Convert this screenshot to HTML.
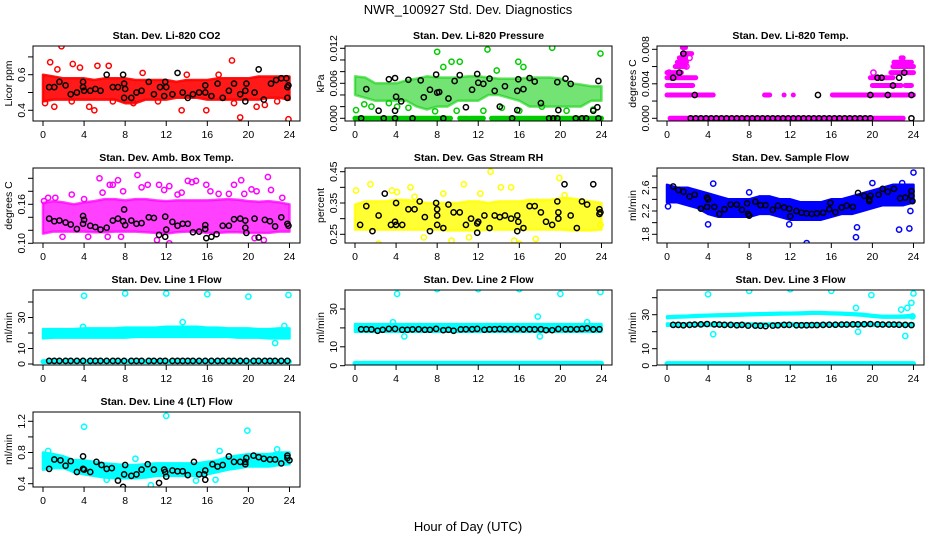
<!DOCTYPE html>
<html><head><meta charset="utf-8"><style>
html,body{margin:0;padding:0;background:#fff}
svg{display:block;font-family:"Liberation Sans",Arial,sans-serif}
</style></head><body>
<svg id="chart" width="936" height="540" viewBox="0 0 936 540" xmlns="http://www.w3.org/2000/svg">
<text x="468" y="14" text-anchor="middle" font-size="13">NWR_100927  Std. Dev. Diagnostics</text>
<text x="468" y="531" text-anchor="middle" font-size="13">Hour of Day (UTC)</text>
</svg>
<script>
// ---------- data ----------
const bandHours = [0,1,2,3,4,5,6,7,8,9,10,11,12,13,14,15,16,17,18,19,20,21,22,23,24];
const xTicks = [0,4,8,12,16,20,24];
const blkLineHours = [0.6,1.1,1.6,2.2,2.7,3.3,3.9,4.6,5.1,5.6,6.2,6.8,7.3,7.9,8.6,9.1,9.6,10.3,10.8,11.4,11.9,12.6,13.1,13.6,14.1,14.6,15.2,15.8,16.4,17,17.5,18.1,18.6,19.2,19.8,20.5,21,21.6,22.1,22.6,23.2,23.8];

// CO2
const co2Lo = [0.45,0.46,0.46,0.46,0.46,0.46,0.46,0.46,0.44,0.44,0.46,0.46,0.46,0.47,0.47,0.47,0.46,0.46,0.46,0.46,0.46,0.46,0.47,0.47,0.46];
const co2Hi = [0.60,0.59,0.58,0.58,0.58,0.57,0.58,0.58,0.58,0.57,0.57,0.57,0.57,0.56,0.57,0.57,0.57,0.58,0.58,0.58,0.58,0.59,0.59,0.59,0.59];
const co2PtsH = [1.8,0.2,0.7,2.9,3.6,5.3,6.4,4.5,5.0,1.1,9.7,13.5,15.9,18.4,19.2,20.8,23.9,14.0,1.4,17.1,21.6,22.8,2.8,6.8,11.2,8.8,18.6];
const co2PtsV = [0.76,0.44,0.67,0.66,0.64,0.65,0.65,0.42,0.40,0.42,0.61,0.40,0.40,0.68,0.36,0.42,0.35,0.60,0.63,0.60,0.43,0.45,0.45,0.45,0.45,0.44,0.44];
const co2BlkH = [0.6,1.1,1.6,2.2,2.7,3.3,3.9,3.9,4.0,4.6,5.1,5.6,6.2,6.8,7.3,7.8,7.9,8.0,7.9,8.6,9.1,9.6,10.3,10.8,11.4,11.8,11.9,12.0,12.6,13.1,13.6,14.1,14.6,15.2,15.8,15.8,16.4,17.0,17.5,18.1,18.6,19.2,19.7,19.8,19.7,20.6,21.0,21.5,22.2,22.7,23.2,23.7,23.8,23.9,23.8];
const co2BlkV = [0.53,0.53,0.56,0.54,0.49,0.50,0.56,0.53,0.51,0.51,0.52,0.51,0.60,0.53,0.53,0.60,0.55,0.52,0.47,0.47,0.50,0.51,0.56,0.49,0.53,0.48,0.56,0.53,0.49,0.61,0.50,0.47,0.49,0.50,0.54,0.50,0.48,0.55,0.47,0.51,0.55,0.49,0.51,0.55,0.45,0.50,0.63,0.46,0.55,0.57,0.58,0.58,0.53,0.54,0.47];

// Pressure
const presLo = [0.0040,0.0035,0.0030,0.0030,0.0030,0.0030,0.0020,0.0015,0.0020,0.0020,0.0030,0.0030,0.0030,0.0040,0.0040,0.0035,0.0030,0.0020,0.0020,0.0020,0.0020,0.0020,0.0020,0.0030,0.0030];
const presHi = [0.0072,0.0070,0.0060,0.0060,0.0060,0.0065,0.0068,0.0072,0.0070,0.0070,0.0070,0.0072,0.0072,0.0070,0.0068,0.0068,0.0068,0.0070,0.0070,0.0070,0.0068,0.0060,0.0058,0.0055,0.0055];
const presRowV = [0,0,0,0,0];
const presRowStart = [0.0,8.5,10.2,11.2,13.3];
const presRowEnd = [8.3,9.3,11.0,12.5,24.0];
const presPtsH = [8.0,12.9,19.2,23.9,9.4,10.2,15.9,16.4,8.6,13.8,0.1,1.6,3.3,5.2,4.1,9.9,12.5,14.3,16.0,18.2,20.6,23.2,0.9,7.8];
const presPtsV = [0.0114,0.0118,0.0121,0.0111,0.0097,0.0097,0.0097,0.0088,0.0088,0.0082,0.0014,0.0020,0.0026,0.0018,0.0020,0.0013,0.0013,0.0018,0.0013,0.0020,0.0013,0.0015,0.0024,0.0012];
const presBlkH = [1.1,2.3,3.3,3.9,3.9,4.0,4.5,5.2,6.4,6.7,7.3,7.9,8.0,8.2,9.1,9.7,10.2,10.8,11.4,11.9,12.0,12.5,13.1,13.6,14.1,14.6,15.8,15.9,15.8,16.4,17.0,17.5,18.1,19.7,19.8,20.5,21.0,23.2,23.6,23.7,0.6,2.8,3.9,5.6,8.6,15.3,18.9,19.3,19.7,21.5,22.1,22.5,23.7];
const presBlkV = [0.0050,0.0013,0.0067,0.0069,0.0013,0.0037,0.0029,0.0066,0.0065,0.0036,0.0049,0.0075,0.0044,0.0045,0.0034,0.0064,0.0074,0.0019,0.0049,0.0076,0.0061,0.0059,0.0068,0.0047,0.0020,0.0055,0.0047,0.0067,0.0014,0.0050,0.0069,0.0063,0.0026,0.0062,0.0014,0.0068,0.0059,0.0013,0.0019,0.0064,0,0,0,0,0,0,0,0,0,0,0,0,0];

// Li-820 Temp
const tempRowV = [0,0.0027,0.0027,0.0027,0.0027,0.0027,0.0027,0.0038,0.0038,0.0038,0.0047,0.0047,0.0053,0.0053,0.006,0.006,0.0065,0.0065,0.007,0.007,0.0075,0.0082];
const tempRowStart = [0.3,0.0,2.5,9.5,11.4,12.3,16.1,0.0,20.0,23.2,0.0,19.8,0.0,21.8,0.8,22.0,1.0,22.1,1.2,22.8,1.5,1.5];
const tempRowEnd = [23.0,2.3,4.5,10.0,11.4,12.3,24.0,2.5,22.8,23.8,2.8,22.0,1.4,24.0,1.8,24.0,1.9,23.8,1.8,23.0,2.4,1.8];
const tempPtsH = [20.1,0.2,0.5,1.9,2.2];
const tempPtsV = [0.0053,0.0053,0.0047,0.0060,0.0070];
const tempBlkH = [2.3,2.8,3.3,3.8,4.3,4.8,5.3,5.8,6.3,6.8,7.3,7.8,8.3,8.8,9.3,9.8,10.3,10.8,11.3,11.8,12.3,12.8,13.3,13.8,14.3,14.8,15.3,15.8,16.3,16.8,17.3,17.8,18.3,18.8,19.3,19.8,23.8,1.6,1.2,0.6,2.7,14.7,19.8,21.5,23.8,20.5,20.9,22.0,22.6,23.1];
const tempBlkV = [0,0,0,0,0,0,0,0,0,0,0,0,0,0,0,0,0,0,0,0,0,0,0,0,0,0,0,0,0,0,0,0,0,0,0,0,0,0.0075,0.0053,0.0047,0.0027,0.0027,0.0027,0.0027,0.0027,0.0047,0.0047,0.0038,0.0047,0.0053];

// Amb box temp
const ambLo = [0.115,0.118,0.118,0.118,0.118,0.117,0.117,0.118,0.118,0.118,0.117,0.116,0.115,0.117,0.118,0.118,0.116,0.116,0.117,0.117,0.116,0.116,0.116,0.118,0.118];
const ambHi = [0.162,0.165,0.163,0.160,0.163,0.165,0.168,0.168,0.166,0.168,0.168,0.166,0.165,0.166,0.166,0.166,0.166,0.167,0.168,0.167,0.165,0.164,0.165,0.163,0.160];
const ambPtsH = [0.1,0.5,1.2,2.8,4.0,5.5,5.8,6.5,6.8,7.3,7.8,9.2,9.6,10.2,11.3,11.8,12.3,13.1,13.5,14.1,14.5,14.9,15.9,16.3,17.1,18.1,18.6,19.3,19.6,20.3,20.8,21.9,22.2,23.3,12.3,21.5,11.1,20.6,1.9,4.4,6.3,7.6];
const ambPtsV = [0.165,0.170,0.170,0.175,0.168,0.200,0.178,0.190,0.190,0.197,0.180,0.205,0.186,0.190,0.190,0.182,0.188,0.175,0.178,0.196,0.194,0.196,0.190,0.180,0.176,0.176,0.190,0.197,0.176,0.183,0.180,0.202,0.182,0.170,0.100,0.105,0.105,0.108,0.110,0.110,0.110,0.110];
const ambBlkH = [0.6,1.1,1.6,2.2,2.7,3.3,3.9,3.9,4.0,4.6,5.1,5.6,6.2,6.8,7.3,7.8,7.9,8.0,8.6,9.1,9.6,10.3,10.8,11.3,11.9,12.0,11.9,12.6,13.1,13.6,14.1,14.6,15.2,15.8,15.8,15.9,16.4,16.9,17.5,18.1,18.6,19.2,19.7,19.7,19.8,20.6,21.0,21.6,22.1,22.6,23.2,23.8,23.9];
const ambBlkV = [0.138,0.134,0.135,0.132,0.129,0.122,0.142,0.130,0.136,0.127,0.125,0.121,0.124,0.135,0.138,0.134,0.152,0.128,0.135,0.130,0.131,0.140,0.139,0.113,0.110,0.121,0.141,0.133,0.127,0.130,0.130,0.117,0.118,0.128,0.122,0.108,0.110,0.114,0.127,0.127,0.137,0.138,0.135,0.124,0.116,0.138,0.109,0.136,0.134,0.126,0.140,0.130,0.127];

// Gas stream RH
const rhLo = [0.265,0.265,0.265,0.265,0.265,0.265,0.265,0.265,0.265,0.262,0.262,0.262,0.262,0.265,0.265,0.265,0.265,0.265,0.265,0.265,0.265,0.262,0.262,0.262,0.265];
const rhHi = [0.345,0.355,0.355,0.355,0.360,0.360,0.355,0.350,0.350,0.350,0.350,0.355,0.355,0.350,0.355,0.355,0.355,0.360,0.360,0.360,0.365,0.365,0.360,0.355,0.350];
const rhPtsH = [0.1,1.5,2.3,3.6,4.1,5.4,5.8,8.6,10.6,12.2,13.2,14.2,15.2,16.0,15.5,19.9,20.4,9.4,6.7,11.1,17.6,23.9];
const rhPtsV = [0.39,0.41,0.22,0.39,0.385,0.40,0.37,0.38,0.41,0.38,0.45,0.40,0.40,0.22,0.23,0.43,0.375,0.23,0.24,0.24,0.235,0.28];
const rhBlkH = [0.5,1.1,1.7,2.3,2.9,3.5,3.9,4.0,4.0,4.6,5.2,5.8,6.3,6.8,7.3,7.9,8.0,8.0,8.0,8.6,9.1,9.6,10.2,10.8,11.3,11.9,11.9,12.0,12.6,13.1,13.6,14.1,14.6,15.2,15.8,15.8,15.9,16.4,17.0,17.5,18.1,18.6,19.2,19.7,19.8,19.8,20.4,21.0,21.6,22.1,22.6,23.2,23.8,23.9,23.8];
const rhBlkV = [0.28,0.34,0.26,0.31,0.38,0.28,0.29,0.35,0.28,0.28,0.33,0.33,0.355,0.305,0.26,0.35,0.31,0.28,0.33,0.27,0.345,0.32,0.32,0.28,0.30,0.255,0.285,0.29,0.31,0.27,0.31,0.305,0.31,0.30,0.26,0.31,0.29,0.27,0.34,0.34,0.32,0.29,0.28,0.355,0.32,0.30,0.41,0.31,0.27,0.355,0.345,0.41,0.33,0.32,0.315];

// Sample flow
const sfLo = [2.35,2.35,2.30,2.25,2.15,2.10,2.10,2.10,2.10,2.15,2.15,2.10,2.05,2.05,2.05,2.05,2.10,2.15,2.15,2.20,2.25,2.30,2.30,2.30,2.35];
const sfHi = [2.65,2.60,2.60,2.55,2.50,2.45,2.40,2.40,2.40,2.45,2.45,2.40,2.40,2.35,2.35,2.35,2.40,2.40,2.45,2.50,2.55,2.60,2.65,2.65,2.65];
const sfPtsH = [13.6,18.4,18.5,22.6,23.6,23.7,24.0,20.0,22.9,4.0,8.0,11.9,4.5,0.1];
const sfPtsV = [1.65,1.75,1.92,1.88,1.90,2.20,2.86,2.68,2.68,1.97,2.52,1.97,2.67,2.28];
const sfBlkH = [0.6,1.1,1.6,2.2,2.7,3.3,3.9,3.9,4.0,4.6,5.1,5.6,6.2,6.8,7.3,7.8,7.9,8.0,8.6,9.1,9.6,10.3,10.8,11.4,11.9,12.0,12.6,13.1,13.6,14.1,14.6,15.2,15.8,15.9,16.4,17.0,17.5,18.1,18.6,19.2,19.7,19.8,19.7,20.6,21.0,21.5,22.1,22.7,23.2,23.8,23.8,23.9];
const sfBlkV = [2.62,2.56,2.53,2.45,2.48,2.24,2.43,2.27,2.40,2.27,2.15,2.23,2.31,2.31,2.22,2.33,2.15,2.12,2.36,2.30,2.30,2.22,2.29,2.26,2.24,2.11,2.20,2.17,2.16,2.15,2.16,2.17,2.23,2.34,2.18,2.26,2.29,2.27,2.51,2.46,2.40,2.46,2.37,2.48,2.58,2.53,2.58,2.42,2.43,2.54,2.46,2.37];

// Line 1
const l1Lo = [16.5,17,17,17,17,17,17,17,17,17.5,17.5,17.5,17.5,17.5,17.5,17.5,17.5,17.5,17.5,17,17,17,16.5,16.5,16.5];
const l1Hi = [22.5,22.5,22.5,22.5,23,23,23,23,23.5,23.5,23.5,23.5,24,24,24,24,23.5,23.5,23,23,23,22.5,22.5,23,23];
const l1RowV = [1.5];
const l1RowStart = [0.0];
const l1RowEnd = [24.0];
const l1PtsH = [4.0,8.0,12.0,16.0,20.0,23.9,13.6,22.6,23.5,3.9];
const l1PtsV = [44,45.5,45.5,45,43.5,44.5,27,13.5,24.5,24];
const l1BlkV = [2,2,2,2,2,2,2,2,2,2,2,2,2,2,2,2,2,2,2,2,2,2,2,2,2,2,2,2,2,2,2,2,2,2,2,2,2,2,2,2,2,2];

// Line 2
const l2Lo = [18,18,18,18,18,18,18,18,18,18,18,18,18,18,18,18,18,18,18,18,18,18,18,18,18];
const l2Hi = [22,22,22,22,22,22,22,22,22,22,22,22,22,22,22,22,22,22,22,22,22,22,22,22,22];
const l2RowV = [1.2];
const l2RowStart = [0.0];
const l2RowEnd = [24.0];
const l2PtsH = [4.1,8.0,12.0,16.0,20.0,23.9,17.8,3.7,4.8,18.0,22.6];
const l2PtsV = [38,40.5,40.5,40.5,38,39,26,23,15.5,15.5,23];
const l2BlkV = [19.3,19.3,19.2,18.5,19,19.5,19.5,19,19,19.2,19.3,19,19,19.5,18.8,19,18.5,19.2,19.3,19.3,19.5,19,19.2,19.3,19.4,19.3,19.3,19.4,19.2,19.3,19.2,19.3,18.8,18.8,19.4,19.3,19.3,19.3,19.5,19.8,19.2,19.3];

// Line 3
const l3UpLo = [28,28.3,28.5,28.8,29,29.2,29.3,29.5,29.7,29.8,30,30.1,30.2,30.3,30.5,30.5,30.3,30.1,29.8,29.5,28.8,28.3,28.3,28.3,28.5];
const l3UpHi = [29,29.3,29.5,29.8,30,30.2,30.3,30.5,30.7,30.8,31,31.1,31.2,31.3,31.5,31.5,31.3,31.1,30.8,30.5,29.8,29.3,29.3,29.5,30];
const l3LoLo = [23.5,23.5,23.5,23.5,23.5,23.5,23.5,23.5,23.5,23.5,23.5,23.5,23.5,23.5,23.5,23.5,23.5,23.5,23.5,23.5,23.5,23.5,23.5,23.5,23.5];
const l3LoHi = [24.8,24.8,24.8,24.8,24.8,24.8,24.8,24.8,24.8,24.8,24.8,24.8,24.8,24.8,24.8,24.8,24.8,24.8,24.8,24.8,24.8,24.8,24.8,24.8,24.8];
const l3RowV = [1.2];
const l3RowStart = [0.0];
const l3RowEnd = [24.0];
const l3PtsH = [4.0,8.0,12.0,16.0,19.9,24.0,4.5,18.6,23.2,23.4,23.9,18.4,22.8,23.8];
const l3PtsV = [42,44,45,44,41.5,42.5,18.5,20,17.5,34,29,34,33,37];
const l3BlkV = [24,24,23.8,24,24.2,24.3,24.5,24.3,24.2,24,24,23.8,24,23.6,23.6,23.5,23.3,23.6,23.8,24,24,23.8,23.8,23.8,23.9,23.9,24,24.1,24.1,24.2,24.2,24.3,24.3,24.4,24.5,24.3,24.2,24.2,24.2,24.1,24,23.9];

// Line 4
const l4Lo = [0.58,0.60,0.60,0.55,0.52,0.50,0.48,0.47,0.47,0.47,0.48,0.50,0.50,0.50,0.50,0.50,0.52,0.55,0.58,0.60,0.62,0.62,0.62,0.64,0.65];
const l4Hi = [0.80,0.78,0.75,0.70,0.70,0.68,0.66,0.65,0.64,0.64,0.65,0.66,0.66,0.66,0.66,0.66,0.68,0.70,0.74,0.76,0.78,0.78,0.78,0.80,0.80];
const l4PtsH = [4.0,12.0,19.9,17.2,10.5,16.8,22.8,0.5,6.2,9.0,14.9];
const l4PtsV = [1.13,1.27,1.08,0.82,0.38,0.45,0.84,0.82,0.45,0.72,0.44];
const l4BlkH = [0.6,1.1,1.7,2.2,2.7,3.3,3.9,3.9,4.0,4.6,5.2,5.7,6.2,6.7,7.3,7.8,7.9,8.0,8.6,9.1,9.6,10.2,10.8,11.3,11.8,11.9,12.0,12.6,13.1,13.6,14.1,14.7,15.2,15.7,15.8,15.8,16.5,17.0,17.5,18.1,18.6,19.2,19.7,19.7,19.8,20.5,21.0,21.5,22.1,22.6,23.2,23.8,23.8,24.0];
const l4BlkV = [0.59,0.71,0.70,0.63,0.69,0.55,0.75,0.59,0.58,0.55,0.68,0.64,0.59,0.60,0.44,0.36,0.52,0.64,0.50,0.52,0.58,0.65,0.58,0.41,0.58,0.55,0.49,0.57,0.56,0.56,0.51,0.68,0.52,0.52,0.45,0.57,0.65,0.62,0.64,0.75,0.68,0.68,0.65,0.68,0.73,0.76,0.74,0.72,0.71,0.71,0.66,0.76,0.73,0.70];

// ---------- panel setup (layout) ----------
const panels = [
 {key:'co2',title:'Stan. Dev. Li-820 CO2',ylab:'Licor ppm',col:0,row:0,v1:0.6,p1:74.7,v2:0.4,p2:110.3,color:'#ff0000',op:0.9,
  yt:[0.4,0.5,0.6,0.7],yl:['0.4','','0.6',''],bands:[[co2Lo,co2Hi]],rows:null,pH:co2PtsH,pV:co2PtsV,bH:co2BlkH,bV:co2BlkV},
 {key:'pressure',title:'Stan. Dev. Li-820 Pressure',ylab:'kPa',col:1,row:0,v1:0,p1:118.3,v2:0.012,p2:48.3,color:'#00cd00',op:0.55,
  yt:[0,0.002,0.004,0.006,0.008,0.010,0.012],yl:['0.000','','','0.006','','','0.012'],bands:[[presLo,presHi]],rows:[presRowV,presRowStart,presRowEnd],pH:presPtsH,pV:presPtsV,bH:presBlkH,bV:presBlkV},
 {key:'temp',title:'Stan. Dev. Li-820 Temp.',ylab:'degrees C',col:2,row:0,v1:0,p1:118.3,v2:0.008,p2:49.3,color:'#ff00ff',op:1,
  yt:[0,0.002,0.004,0.006,0.008],yl:['0.000','','0.004','','0.008'],bands:[],rows:[tempRowV,tempRowStart,tempRowEnd],pH:tempPtsH,pV:tempPtsV,bH:tempBlkH,bV:tempBlkV},
 {key:'amb-box-temp',title:'Stan. Dev. Amb. Box Temp.',ylab:'degrees C',col:0,row:1,v1:0.16,p1:204.3,v2:0.10,p2:243.3,color:'#ff00ff',op:0.75,
  yt:[0.10,0.12,0.14,0.16,0.18,0.20],yl:['0.10','','','0.16','',''],bands:[[ambLo,ambHi]],rows:null,pH:ambPtsH,pV:ambPtsV,bH:ambBlkH,bV:ambBlkV},
 {key:'gas-stream-rh',title:'Stan. Dev. Gas Stream RH',ylab:'percent',col:1,row:1,v1:0.45,p1:171.7,v2:0.25,p2:234.3,color:'#ffff00',op:0.8,
  yt:[0.25,0.30,0.35,0.40,0.45],yl:['0.25','','0.35','','0.45'],bands:[[rhLo,rhHi]],rows:null,pH:rhPtsH,pV:rhPtsV,bH:rhBlkH,bV:rhBlkV},
 {key:'sample-flow',title:'Stan. Dev. Sample Flow',ylab:'ml/min',col:2,row:1,v1:2.6,p1:187.7,v2:1.8,p2:234.3,color:'#0000ff',op:1,
  yt:[1.8,2.0,2.2,2.4,2.6,2.8],yl:['1.8','','2.2','','2.6',''],bands:[[sfLo,sfHi]],rows:null,pH:sfPtsH,pV:sfPtsV,bH:sfBlkH,bV:sfBlkV},
 {key:'line1-flow',title:'Stan. Dev. Line 1 Flow',ylab:'ml/min',col:0,row:2,v1:0,p1:364,v2:30,p2:317.5,color:'#00ffff',op:1,
  yt:[0,10,20,30,40],yl:['0','10','','30',''],bands:[[l1Lo,l1Hi]],rows:[l1RowV,l1RowStart,l1RowEnd],pH:l1PtsH,pV:l1PtsV,bH:blkLineHours,bV:l1BlkV},
 {key:'line2-flow',title:'Stan. Dev. Line 2 Flow',ylab:'ml/min',col:1,row:2,v1:0,p1:365.7,v2:30,p2:309,color:'#00ffff',op:1,
  yt:[0,10,20,30],yl:['0','10','','30'],bands:[[l2Lo,l2Hi]],rows:[l2RowV,l2RowStart,l2RowEnd],pH:l2PtsH,pV:l2PtsV,bH:blkLineHours,bV:l2BlkV},
 {key:'line3-flow',title:'Stan. Dev. Line 3 Flow',ylab:'ml/min',col:2,row:2,v1:0,p1:365.7,v2:30,p2:314.7,color:'#00ffff',op:1,
  yt:[0,10,20,30,40],yl:['0','10','','30',''],bands:[[l3UpLo,l3UpHi],[l3LoLo,l3LoHi]],rows:[l3RowV,l3RowStart,l3RowEnd],pH:l3PtsH,pV:l3PtsV,bH:blkLineHours,bV:l3BlkV},
 {key:'line4-flow',title:'Stan. Dev. Line 4 (LT) Flow',ylab:'ml/min',col:0,row:3,v1:0.4,p1:483.7,v2:1.2,p2:421.3,color:'#00ffff',op:1,
  yt:[0.4,0.6,0.8,1.0,1.2],yl:['0.4','','0.8','','1.2'],bands:[[l4Lo,l4Hi]],rows:null,pH:l4PtsH,pV:l4PtsV,bH:l4BlkH,bV:l4BlkV}
];

const NS='http://www.w3.org/2000/svg';
const svg=document.getElementById('chart');
function el(tag,attrs,parent){const e=document.createElementNS(NS,tag);for(const k in attrs)e.setAttribute(k,attrs[k]);parent.appendChild(e);return e;}

panels.forEach(p=>{
  const cx=p.col*312, ry=p.row*122;
  const bl=33+cx, br=300+cx, bt=46+ry, bb=121+ry;
  const xs=h=>43+cx+h*10.27;
  const ys=v=>p.p1+(v-p.v1)*(p.p2-p.p1)/(p.v2-p.v1);
  const g=el('g',{},svg);
  
  
  const clipId='clip-'+p.key;
  const cp=el('clipPath',{id:clipId},g);
  el('rect',{x:bl,y:bt,width:br-bl,height:bb-bt},cp);
  const t=el('text',{x:(bl+br)/2,y:bt-7,'text-anchor':'middle','font-size':'10.5','font-weight':'bold'},g);
  t.textContent=p.title;
  
  
  const yl=el('text',{transform:`translate(${bl-21},${(bt+bb)/2}) rotate(-90)`,'text-anchor':'middle','font-size':'10.5'},g);
  yl.textContent=p.ylab;
  
  
  const marks=el('g',{'clip-path':`url(#${clipId})`},g);
  
  
  p.bands.forEach(b=>{
    let d='';
    bandHours.forEach((h,i)=>{d+=(i?'L':'M')+xs(h).toFixed(1)+','+ys(b[1][i]).toFixed(1);});
    for(let i=bandHours.length-1;i>=0;i--) d+='L'+xs(bandHours[i]).toFixed(1)+','+ys(b[0][i]).toFixed(1);
    d+='Z';
    const path=el('path',{d:d,fill:p.color,'fill-opacity':p.op,stroke:p.color,'stroke-opacity':p.op,'stroke-width':'2.5','stroke-linejoin':'round'},marks);
    
    
  });
  if(p.rows){
    p.rows[0].forEach((v,i)=>{
      const ln=el('line',{x1:xs(p.rows[1][i]),x2:xs(p.rows[2][i]),y1:ys(v),y2:ys(v),stroke:p.color,'stroke-width':'5','stroke-linecap':'round'},marks);
      
      
    });
  }
  p.pH.forEach((h,i)=>{
    const c=el('circle',{cx:xs(h),cy:ys(p.pV[i]),r:2.6,fill:'none',stroke:p.color,'stroke-width':'1.5'},marks);
    
    
  });
  p.bH.forEach((h,i)=>{
    const c=el('circle',{cx:xs(h),cy:ys(p.bV[i]),r:2.6,fill:'none',stroke:'#000','stroke-width':'1.5'},marks);
    
    
  });
  const box=el('rect',{x:bl,y:bt,width:br-bl,height:bb-bt,fill:'none',stroke:'#000','stroke-width':'1'},g);
  
  
  const xa=el('g',{},g);
  
  
  el('line',{x1:xs(0),x2:xs(24),y1:bb,y2:bb,stroke:'#000'},xa);
  xTicks.forEach(h=>{
    el('line',{x1:xs(h),x2:xs(h),y1:bb,y2:bb+5,stroke:'#000'},xa);
    const tx=el('text',{x:xs(h),y:bb+17,'text-anchor':'middle','font-size':'10.5'},xa);
    tx.textContent=h;
    
    
  });
  const ya=el('g',{},g);
  
  
  p.yt.forEach((v,i)=>{
    el('line',{x1:bl-5,x2:bl,y1:ys(v),y2:ys(v),stroke:'#000'},ya);
    if(p.yl[i]){
      const tx=el('text',{transform:`translate(${bl-8},${ys(v)}) rotate(-90)`,'text-anchor':'middle','font-size':'10.5'},ya);
      tx.textContent=p.yl[i];
      
      
    }
  });
});
</script>
</body></html>
